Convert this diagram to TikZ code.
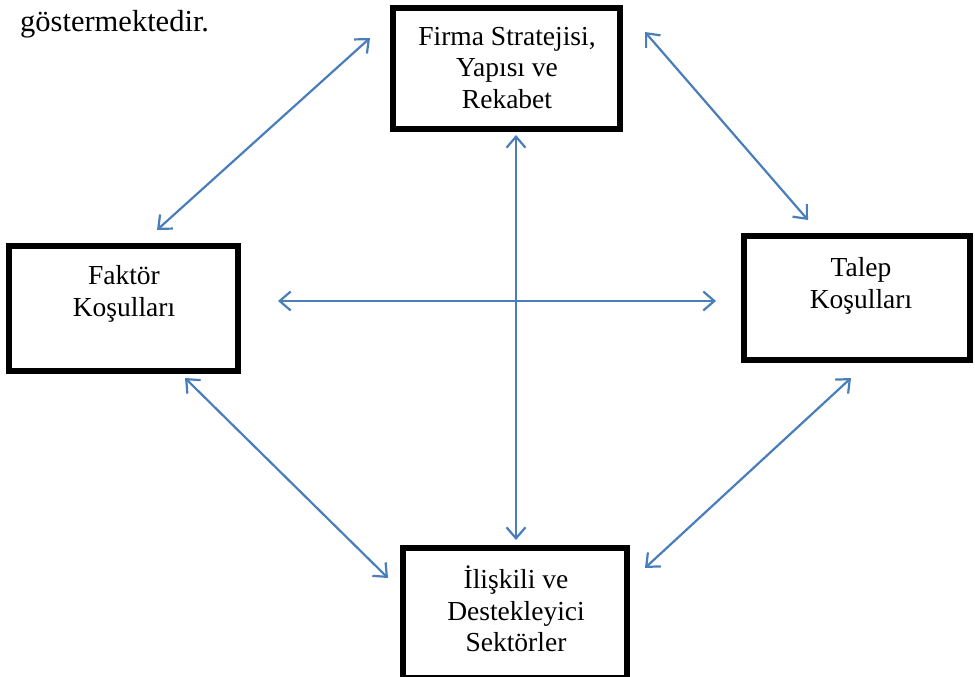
\documentclass[tikz,border=0pt]{standalone}
\usepackage{fontspec}
\setmainfont{Liberation Serif}
\usetikzlibrary{arrows.meta}
\definecolor{arrowblue}{HTML}{4A7EBB}
\tikzset{
  boxnode/.style={draw=black, line width=6pt, fill=white, rectangle, inner sep=0pt},
  boxtext/.style={align=center, inner sep=0pt, font=\fontsize{27.5}{31.5}\selectfont},
  dblarrow/.style={draw=arrowblue, line width=2.2pt, {Straight Barb[length=11pt,width=19pt,line width=2.2pt]}-{Straight Barb[length=11pt,width=19pt,line width=2.2pt]}}
}
\begin{document}
\begin{tikzpicture}[x=1pt,y=-1pt]
\useasboundingbox (0,0) rectangle (975,677);
\fill[white] (0,0) rectangle (975,677);
% boxes
\node[boxnode, minimum width=227pt, minimum height=121pt] (top) at (506.5,68.5) {};
\node[boxnode, minimum width=229pt, minimum height=125pt] (left) at (123.5,308.5) {};
\node[boxnode, minimum width=226pt, minimum height=124pt] (right) at (857,298) {};
\node[boxnode, minimum width=224pt, minimum height=130pt] (bottom) at (515,613) {};
% texts
\node[boxtext] (toptext) at (507,68) {Firma Stratejisi,\\Yapısı ve\\Rekabet};
\node[boxtext] (lefttext) at (124,294) {Faktör\\Koşulları};
\node[boxtext] (righttext) at (861,286) {Talep\\Koşulları};
\node[boxtext] (bottomtext) at (516,609) {İlişkili ve\\Destekleyici\\Sektörler};
\node[anchor=base west, inner sep=0pt, font=\fontsize{30.5}{34}\selectfont] (body) at (20,32) {göstermektedir.};
% arrow end points
\coordinate (tl1) at (370,38);
\coordinate (tl2) at (157,230);
\coordinate (tr1) at (645,32);
\coordinate (tr2) at (808,220);
\coordinate (v1) at (516,135);
\coordinate (v2) at (516,540);
\coordinate (h1) at (278,301);
\coordinate (h2) at (716,301);
\coordinate (bl1) at (185,378);
\coordinate (bl2) at (388,578);
\coordinate (br1) at (851,378);
\coordinate (br2) at (645,568);
% arrows
\draw[dblarrow] (tl1) -- (tl2);
\draw[dblarrow] (tr1) -- (tr2);
\draw[dblarrow] (v1) -- (v2);
\draw[dblarrow] (h1) -- (h2);
\draw[dblarrow] (bl1) -- (bl2);
\draw[dblarrow] (br1) -- (br2);
\end{tikzpicture}
\end{document}
